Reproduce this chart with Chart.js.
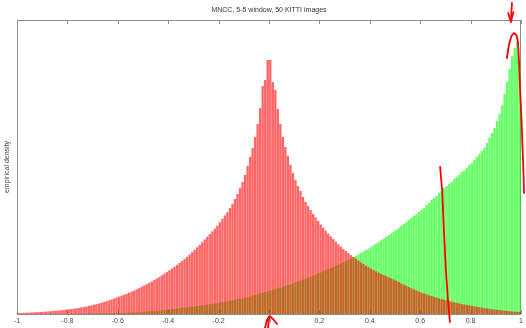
<!DOCTYPE html>
<html>
<head>
<meta charset="utf-8">
<script src="https://cdn.jsdelivr.net/npm/chart.js@4.4.1/dist/chart.umd.min.js"></script>
<style>
  body { margin: 0; background: #fff; }
  canvas { display: block; }
</style>
</head>
<body>
<canvas id="hist" width="526" height="328"></canvas>
<script>
// MNCC histogram, 200 bins on [-1, 1]
var titleText = 'MNCC, 5-5 window, 50 KITTI images';
var yLabel = 'empirical density';
var binStart = -1;
var binWidth = 0.01;
var yMax = 294;

var xTickValues = [-1, -0.8, -0.6, -0.4, -0.2, 0, 0.2, 0.4, 0.6, 0.8, 1];
var xTickLabels = ['-1', '-0.8', '-0.6', '-0.4', '-0.2', '0', '0.2', '0.4', '0.6', '0.8', '1'];

// wrong matches (red)
var redDensity = [
  1.0,1.1,1.2,1.3,1.4,1.5,1.6,1.8,1.9,2.1,
  2.2,2.4,2.6,2.8,3.0,3.2,3.5,3.7,4.0,4.3,
  4.6,5.0,5.3,5.7,6.1,6.6,7.0,7.5,8.1,8.7,
  9.3,9.9,10.5,11.2,12.0,12.8,13.6,14.5,15.5,16.5,
  17.4,18.3,19.3,20.2,21.3,22.4,23.5,24.7,26.0,27.3,
  28.6,29.9,31.2,32.5,34.0,35.5,37.0,38.7,40.4,42.1,
  43.8,45.5,47.3,49.1,51.0,53.0,55.1,57.2,59.5,61.8,
  64.2,66.7,69.2,71.8,74.6,77.3,79.9,82.6,85.4,88.3,
  91.7,95.1,98.6,102,106,110,115,120,126,132,
  139,148,157,166,177,190,206,228,234,254,
  254,232,224,205,190,177,167,158,149,141,
  134,128,123,117,112,108,104,100,96.5,93,
  89.4,86.3,83.3,80.4,77.6,74.9,72.3,69.8,67.4,65.1,
  63.0,60.9,58.9,57.0,55.2,53.4,51.6,50.0,48.3,46.8,
  45.3,44.0,42.7,41.4,40.2,39.0,37.8,36.7,35.6,34.5,
  33.4,32.0,30.7,29.4,28.1,26.9,25.8,24.7,23.6,22.6,
  21.5,20.6,19.7,18.8,18.0,17.2,16.4,15.7,15.0,14.3,
  13.7,13.0,12.4,11.8,11.2,10.6,10.1,9.6,9.2,8.7,
  8.2,7.7,7.3,6.8,6.4,6.0,5.6,5.3,4.9,4.6,
  4.3,4.0,3.7,3.4,3.1,2.9,2.6,2.4,2.2,2.0
];

// correct matches (green)
var greenDensity = [
  0,0,0,0,0,0,0,0,0.1,0.1,
  0.1,0.1,0.1,0.1,0.1,0.2,0.2,0.2,0.2,0.2,
  0.2,0.2,0.3,0.3,0.3,0.4,0.4,0.4,0.5,0.5,
  0.5,0.6,0.6,0.7,0.7,0.8,0.8,0.9,0.9,1.0,
  1.0,1.1,1.2,1.3,1.4,1.5,1.6,1.7,1.8,1.9,
  2.1,2.4,2.6,2.9,3.1,3.4,3.6,3.9,4.1,4.4,
  4.7,5.0,5.3,5.6,5.9,6.2,6.5,6.8,7.1,7.4,
  7.7,8.0,8.4,8.7,9.1,9.4,9.8,10.1,10.5,10.8,
  11.3,11.8,12.3,12.8,13.3,13.8,14.3,14.8,15.3,15.8,
  16.4,17.1,17.8,18.5,19.2,19.9,20.6,21.3,22.0,22.7,
  23.4,24.2,25.0,25.8,26.6,27.4,28.2,29.0,29.8,30.6,
  31.5,32.5,33.5,34.5,35.5,36.5,37.5,38.5,39.5,40.5,
  41.6,42.7,43.8,44.9,46.0,47.1,48.2,49.3,50.4,51.5,
  52.7,54.1,55.5,56.9,58.3,59.7,61.1,62.5,63.9,65.3,
  66.9,68.6,70.3,72.0,73.7,75.4,77.1,78.8,80.5,82.2,
  84,86,88,90,92,94,96,98,100,102,
  104,106,109,111,114,116,118,121,123,126,
  128,130,132,135,137,139,142,144,146,149,
  151,154,157,160,163,166,171,176,181,186,
  193,200,209,220,232,245,258,266,272,252
];

// hand drawn red pen marks, in data units (x value, y value)
var penStrokes = [
  [[0.964, 311], [0.960, 293]],
  [[0.949, 301], [0.960, 292], [0.970, 302]],
  [[0.944, 256], [0.952, 269], [0.962, 278], [0.972, 281], [0.982, 279], [0.988, 272],
   [0.992, 254], [0.996, 227], [1.002, 194], [1.007, 161], [1.010, 139], [1.012, 121]],
  [[0.679, 147], [0.687, 124], [0.694, 84], [0.702, 44], [0.710, 14], [0.718, -8]],
  [[-0.016, -14], [-0.008, -6], [0.002, -2], [0.016, -5], [0.032, -10]],
  [[-0.004, -14], [0.0, -4]]
];

var binCenters = redDensity.map(function (_, i) { return binStart + binWidth * (i + 0.5); });

function toPoints(values) {
  return values.map(function (v, i) { return { x: binCenters[i], y: v }; });
}

// box with inward ticks, matlab style
var axesBox = {
  id: 'axesBox',
  beforeDatasetsDraw: function (chart) {
    var ctx = chart.ctx;
    var a = chart.chartArea;
    var xs = chart.scales.x;
    ctx.save();
    ctx.strokeStyle = '#8c8c8c';
    ctx.lineWidth = 1;
    ctx.strokeRect(a.left + 0.5, a.top + 0.5, a.right - a.left - 1, a.bottom - a.top);
    ctx.beginPath();
    xTickValues.forEach(function (v) {
      var px = Math.round(xs.getPixelForValue(v)) + 0.5;
      ctx.moveTo(px, a.top);
      ctx.lineTo(px, a.top + 4);
      ctx.moveTo(px, a.bottom);
      ctx.lineTo(px, a.bottom - 4);
    });
    ctx.stroke();
    ctx.restore();
  }
};

var penMarks = {
  id: 'penMarks',
  afterDraw: function (chart) {
    var ctx = chart.ctx;
    var xs = chart.scales.x;
    var ys = chart.scales.y;
    ctx.save();
    ctx.strokeStyle = '#ff0000';
    ctx.lineWidth = 1.8;
    ctx.lineCap = 'round';
    ctx.lineJoin = 'round';
    penStrokes.forEach(function (stroke) {
      ctx.beginPath();
      stroke.forEach(function (p, i) {
        var px = xs.getPixelForValue(p[0]);
        var py = ys.getPixelForValue(p[1]);
        if (i === 0) ctx.moveTo(px, py); else ctx.lineTo(px, py);
      });
      ctx.stroke();
    });
    ctx.restore();
  }
};

var smallFont = { family: 'Liberation Sans, Arial, sans-serif', size: 7, weight: 'normal' };

new Chart(document.getElementById('hist'), {
  type: 'bar',
  data: {
    datasets: [
      {
        label: 'wrong',
        data: toPoints(redDensity),
        backgroundColor: 'rgba(255, 0, 0, 0.6)',
        barPercentage: 0.93,
        categoryPercentage: 1
      },
      {
        label: 'correct',
        data: toPoints(greenDensity),
        backgroundColor: 'rgba(0, 255, 0, 0.6)',
        barPercentage: 0.93,
        categoryPercentage: 1
      }
    ]
  },
  options: {
    responsive: false,
    animation: false,
    devicePixelRatio: 1,
    layout: { padding: { left: 0, right: 5, top: 0, bottom: 0 } },
    plugins: {
      legend: { display: false },
      tooltip: { enabled: false },
      title: {
        display: true,
        text: titleText,
        fullSize: false,
        color: '#333',
        font: smallFont,
        padding: { top: 6, bottom: 5.6 }
      }
    },
    scales: {
      x: {
        type: 'linear',
        min: -1,
        max: 1,
        offset: false,
        grid: { display: false, drawTicks: false },
        border: { display: false },
        afterBuildTicks: function (s) {
          s.ticks = xTickValues.map(function (v) { return { value: v }; });
        },
        afterFit: function (s) { s.height = 14; },
        ticks: {
          color: '#444',
          font: smallFont,
          padding: 3,
          maxRotation: 0,
          autoSkip: false,
          callback: function (value, index) { return xTickLabels[index]; }
        }
      },
      y: {
        min: 0,
        max: yMax,
        grid: { display: false, drawTicks: false },
        border: { display: false },
        ticks: { display: false },
        afterFit: function (s) { s.width = 17; },
        title: {
          display: true,
          text: yLabel,
          color: '#444',
          font: smallFont,
          padding: { top: 3, bottom: 0 }
        }
      }
    },
    datasets: { bar: { grouped: false } }
  },
  plugins: [axesBox, penMarks]
});
</script>
</body>
</html>
